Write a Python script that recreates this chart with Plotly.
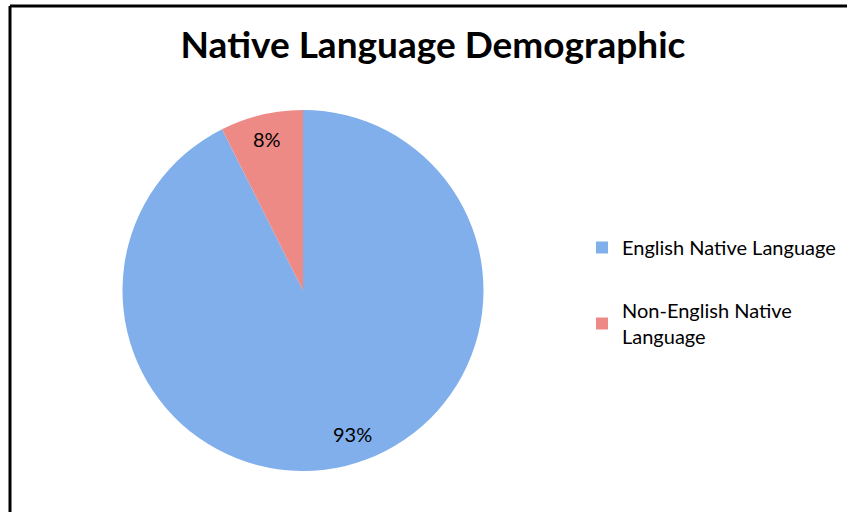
import math
import plotly.graph_objects as go

labels = ["English Native Language", "Non-English Native Language"]
values = [92.6, 7.4]
pct_text = ["93%", "8%"]
colors = ["#80afeb", "#ee8a86"]

W, H = 849, 512
PIE_X = [122 / W, 484 / W]
PIE_Y = [41 / H, 402 / H]

fig = go.Figure(go.Pie(
    labels=labels,
    values=values,
    textinfo="none",
    sort=False,
    direction="clockwise",
    rotation=0,
    marker=dict(colors=colors, line=dict(width=0)),
    domain=dict(x=PIE_X, y=PIE_Y),
    hoverinfo="skip",
    showlegend=False,
))

# legend entries via empty traces so the spacing matches the reference
for lab, col in zip(["English Native Language", "Non-English Native<br>Language"], colors):
    fig.add_trace(go.Scatter(
        x=[None], y=[None], mode="markers", name=lab, legendgroup=lab,
        marker=dict(symbol="square", size=11, color=col),
    ))

# percentage labels placed along the mid-angle of each slice
total = sum(values)
cx = (PIE_X[0] + PIE_X[1]) / 2 * W
cy = (1 - (PIE_Y[0] + PIE_Y[1]) / 2) * H
R = (PIE_X[1] - PIE_X[0]) * W / 2
start = 0.0
annotations = []
label_r = [0.84, 0.86]
angle_shift = [-5.5, 0.0]
for v, t, lr, sh in zip(values, pct_text, label_r, angle_shift):
    mid = (start + v / 2) / total * 2 * math.pi + math.radians(sh)
    px = cx + lr * R * math.sin(mid)
    py = cy - lr * R * math.cos(mid)
    annotations.append(dict(
        x=px / W, y=1 - py / H, xref="paper", yref="paper",
        text=t, showarrow=False, xanchor="center", yanchor="middle",
        font=dict(family="Lato", size=20, color="#000000"),
    ))
    start += v

fig.update_layout(
    width=W, height=H,
    margin=dict(l=0, r=0, t=0, b=0, autoexpand=False),
    paper_bgcolor="white",
    plot_bgcolor="white",
    xaxis=dict(visible=False),
    yaxis=dict(visible=False),
    title=dict(text="<b>Native Language Demographic</b>",
               font=dict(family="Lato", size=37, color="#000000"),
               x=433 / W, xanchor="center", y=1 - 45 / H, yanchor="middle"),
    legend=dict(x=582 / W, xanchor="left", y=1 - 228 / H, yanchor="top",
                font=dict(family="Lato", size=20, color="#000000"),
                tracegroupgap=34, itemsizing="constant",
                bgcolor="rgba(0,0,0,0)"),
    annotations=annotations,
    shapes=[
        dict(type="line", xref="paper", yref="paper",
             x0=10 / W, x1=847 / W, y0=1 - 6 / H, y1=1 - 6 / H,
             line=dict(color="black", width=3)),
        dict(type="line", xref="paper", yref="paper",
             x0=10 / W, x1=10 / W, y0=1 - 6 / H, y1=0,
             line=dict(color="black", width=3)),
    ],
)

fig.write_html("out.html", config={"displayModeBar": False})
